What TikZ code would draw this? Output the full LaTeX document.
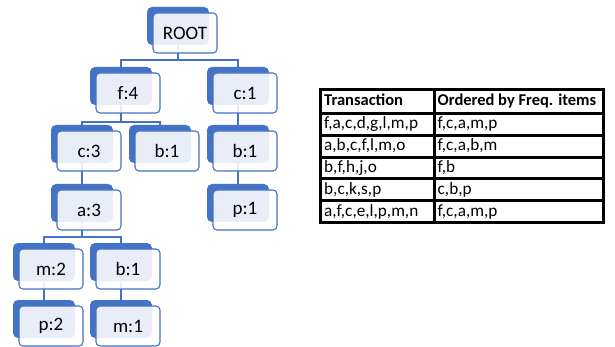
\documentclass[tikz,border=0pt]{standalone}
\usepackage{fontspec}
\setmainfont{Carlito}
\usetikzlibrary{calc}
\pgfdeclarelayer{background}
\pgfsetlayers{background,main}
\definecolor{obl}{HTML}{4472C4}
\tikzset{
 backbox/.style={fill=obl, rounded corners=5pt, minimum width=62pt, minimum height=38pt, inner sep=0pt, outer sep=0pt, anchor=north west},
 frontbox/.style={draw=obl, line width=1.1pt, fill=white, fill opacity=0.88, text opacity=1, rounded corners=4pt, minimum width=64pt, minimum height=40pt, inner sep=0pt, outer sep=0pt, anchor=north west, font=\fontsize{19}{22}\selectfont},
 conn/.style={draw=obl, line width=1.1pt},
 cellline/.style={line width=3pt, draw=black},
 cell/.style={anchor=west, inner sep=0pt, text height=12pt, text depth=3pt, font=\fontsize{17.2}{19}\selectfont},
 hcell/.style={cell, font=\fontsize{16.5}{19}\selectfont\bfseries},
}
\newcommand\mytn[4]{%
 \node[backbox] (#1B) at (#2,#3) {};
 \node[frontbox] (#1) at (#2+6,#3+6) {#4};
}
\begin{document}
\begin{tikzpicture}[x=1pt,y=-1pt]
\useasboundingbox (0,0) rectangle (615,347);
% tree nodes
\mytn{root}{147}{7}{ROOT}
\mytn{fa}{90}{67}{f:4}
\mytn{ca}{207}{67}{c:1}
\mytn{cb}{51}{125}{c:3}
\mytn{ba}{129}{125}{b:1}
\mytn{bb}{207}{125}{b:1}
\mytn{aa}{51}{184}{a:3}
\mytn{pa}{207}{184}{p:1}
\mytn{ma}{13}{243}{m:2}
\mytn{bc}{90}{243}{b:1}
\mytn{pb}{13}{300}{p:2}
\mytn{mb}{90}{300}{m:1}
\coordinate (bus1) at (0,60);
\coordinate (bus2) at (0,122);
\coordinate (bus3) at (0,237);
\begin{pgfonlayer}{background}
\draw[conn] (rootB.south) -- (rootB.south |- bus1) -| (faB.north);
\draw[conn] (rootB.south |- bus1) -| (caB.north);
\draw[conn] (faB.south) -- (faB.south |- bus2) -| (cbB.north);
\draw[conn] (faB.south |- bus2) -| (baB.north);
\draw[conn] (caB.south) -- (bbB.north);
\draw[conn] (bbB.south) -- (paB.north);
\draw[conn] (cbB.south) -- (aaB.north);
\draw[conn] (aaB.south) -- (aaB.south |- bus3) -| (maB.north);
\draw[conn] (aaB.south |- bus3) -| (bcB.north);
\draw[conn] (maB.south) -- (pbB.north);
\draw[conn] (bcB.south) -- (mbB.north);
\end{pgfonlayer}
% table
\draw[cellline] (320.5,89.5) rectangle (603.5,222.5);
\draw[cellline] (434,89.5) -- (434,222.5);
\foreach \yy in {113.5,135.3,157.1,178.9,200.7} {\draw[cellline] (320.5,\yy) -- (603.5,\yy);}
\node[hcell] (h1) at (324,101.5) {Transaction};
\node[hcell] (h2) at (437.5,101.5) {Ordered by Freq. items};
\node[cell] (t1) at (324,124.4) {f,a,c,d,g,l,m,p};
\node[cell] (o1) at (437.5,124.4) {f,c,a,m,p};
\node[cell] (t2) at (324,146.2) {a,b,c,f,l,m,o};
\node[cell] (o2) at (437.5,146.2) {f,c,a,b,m};
\node[cell] (t3) at (324,168) {b,f,h,j,o};
\node[cell] (o3) at (437.5,168) {f,b};
\node[cell] (t4) at (324,189.8) {b,c,k,s,p};
\node[cell] (o4) at (437.5,189.8) {c,b,p};
\node[cell] (t5) at (324,211.6) {a,f,c,e,l,p,m,n};
\node[cell] (o5) at (437.5,211.6) {f,c,a,m,p};
\end{tikzpicture}
\end{document}
